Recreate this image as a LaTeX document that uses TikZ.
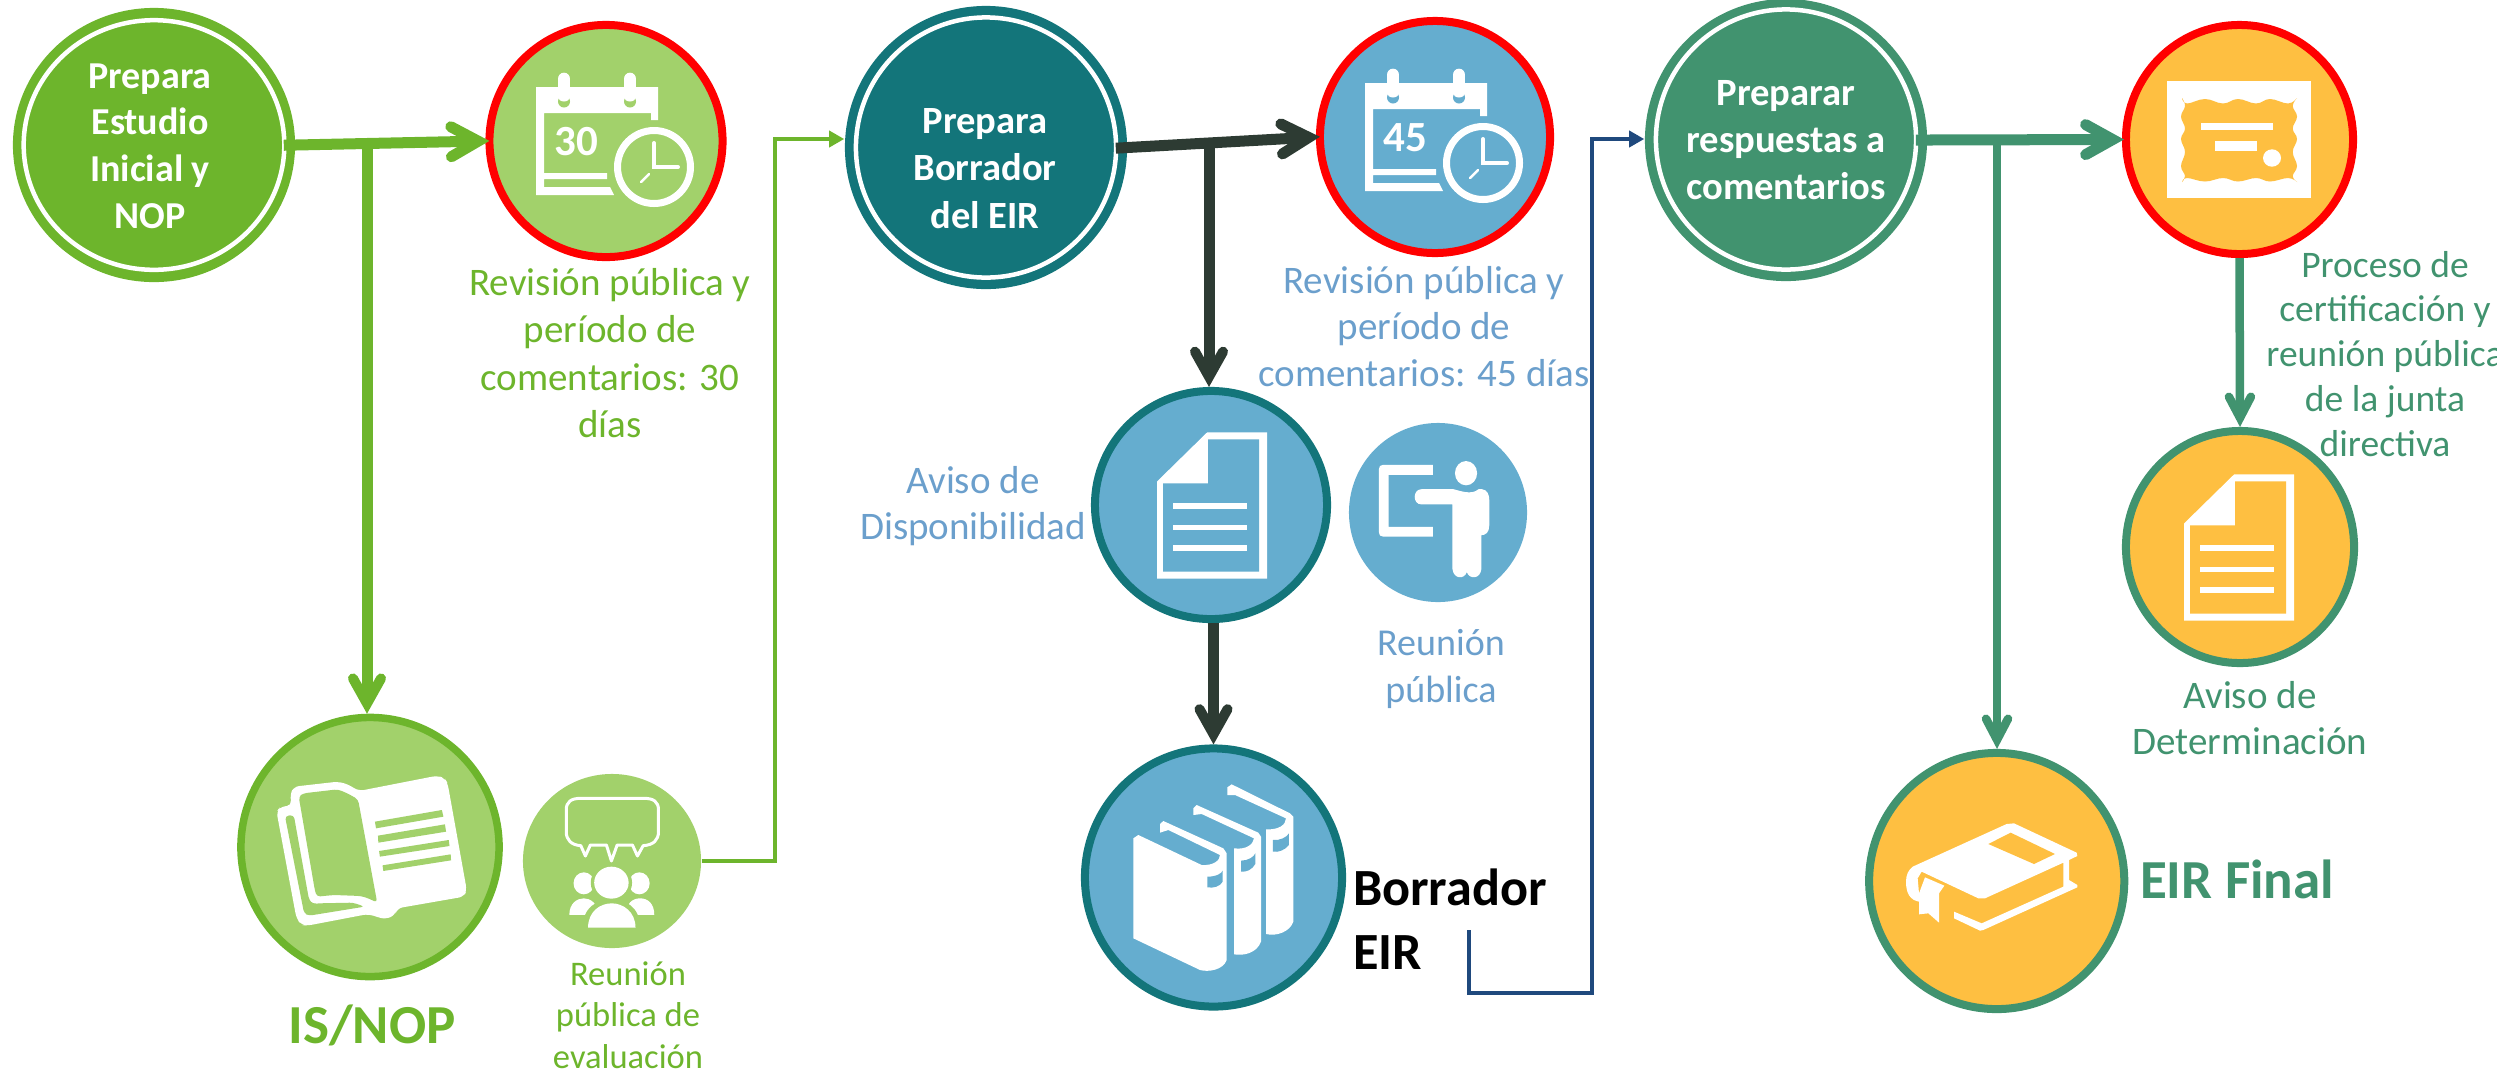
\documentclass[tikz,border=0pt]{standalone}
\usepackage{fontspec}
\setmainfont{Carlito}
\usetikzlibrary{shapes.geometric,arrows.meta}
\definecolor{cgreen}{HTML}{6DB52C}
\definecolor{clight}{HTML}{A2D16B}
\definecolor{cteal}{HTML}{13757A}
\definecolor{cblue}{HTML}{65ADCF}
\definecolor{ctblue}{HTML}{6B9FCC}
\definecolor{csea}{HTML}{41936F}
\definecolor{cnavy}{HTML}{1F497D}
\definecolor{cdark}{HTML}{2D3B33}
\definecolor{camber}{HTML}{FEBF41}
\definecolor{cred}{HTML}{FF0000}
\tikzset{
  disc/.style={ellipse,inner sep=0pt},
  ringline/.style={ellipse,inner sep=0pt,draw=white,line width=0.045cm},
  heavy/.style={line width=0.11cm,-{Straight Barb[length=0.27cm,width=0.30cm,line cap=round,line width=0.11cm]}},
  heavyv/.style={line width=0.11cm,-{Straight Barb[length=0.25cm,width=0.28cm,line cap=round,line width=0.10cm]}},
  medium/.style={line width=0.085cm,-{Straight Barb[length=0.21cm,width=0.22cm,line cap=round,line width=0.085cm]}},
  thin/.style={line width=0.035cm,-{Triangle[length=0.15cm,width=0.16cm]}},
  txt/.style={anchor=north,inner sep=0pt,outer sep=0pt,align=center},
}
\newcommand{\lbl}[7]{%
  \pgfmathsetmacro\fs{#4*0.28453}\pgfmathsetmacro\ld{#5*0.28453}%
  \node[txt,font={\fontsize{\fs}{\ld}\selectfont #6}] (#1) at (#2,{#3-#4}) {\rule{0pt}{\fs pt}#7};}
\newcommand{\calicon}[5]{%
  \begin{scope}[shift={(#1,#2)}]
    \fill[white] (-70,-54) -- (52,-54) -- (52,-21) -- (45,-21) -- (45,-28) -- (-62,-28) -- (-62,32) -- (1,32) -- (1,38) -- (-62,38) -- (-62,46) -- (4,46) -- (8,54) -- (-70,54) -- cycle;
    \foreach \xx in {-42,24}{
      \draw[white,line width=0.127cm,line cap=round] (\xx,-62) -- (\xx,-44);
      \fill[#3] (\xx,-39.5) ellipse (6 and 6);
      \fill[white] (\xx,-44) ellipse (6 and 4.5);
    }
    \draw[white,line width=0.07cm,fill=#3] (48,26) circle (36.5);
    \draw[white,line width=0.04cm,line cap=round] (48,2) -- (48,26) -- (72,26);
    \draw[white,line width=0.025cm,line cap=round] (35,41) -- (43,33);
    \lbl{#5}{-30}{14}{43}{43}{\bfseries\color{white}}{#4}
  \end{scope}}
\newcommand{\docicon}[4]{%
  \begin{scope}[shift={(#1,#2)},yscale=#4]
    \fill[white] (-54,-24) -- (-4,-74) -- (56,-74) -- (56,75) -- (-54,75) -- cycle;
    \fill[#3] (-3,-67) -- (48,-67) -- (48,68) -- (-48,68) -- (-48,-22) -- (-3,-22) -- cycle;
    \fill[white] (-38,-2) rectangle (36,4);
    \fill[white] (-38,20) rectangle (36,26);
    \fill[white] (-38,40.5) rectangle (36,46.5);
  \end{scope}}
\begin{document}
\begin{tikzpicture}[x=0.01cm,y=-0.01cm]
\useasboundingbox (0,0) rectangle (2497,1075);
% ---------- discs
\node[disc,fill=cgreen,minimum width=2.82cm,minimum height=2.74cm] (c1) at (154,145) {};
\node[ringline,minimum width=2.605cm,minimum height=2.495cm] (r1) at (154,145) {};
\node[disc,fill=clight,draw=cred,line width=0.08cm,minimum width=2.33cm,minimum height=2.32cm] (c2) at (606,141) {};
\node[disc,fill=clight,draw=cgreen,line width=0.075cm,minimum width=2.58cm,minimum height=2.59cm] (isnop) at (370,847) {};
\node[disc,fill=clight,minimum width=1.78cm,minimum height=1.74cm] (meet) at (612,861) {};
\node[disc,fill=cteal,minimum width=2.82cm,minimum height=2.83cm] (c3) at (986,147.5) {};
\node[ringline,minimum width=2.6cm,minimum height=2.6cm] (r3) at (986,147.5) {};
\node[disc,fill=cblue,draw=cred,line width=0.08cm,minimum width=2.30cm,minimum height=2.32cm] (c4) at (1435,137) {};
\node[disc,fill=cblue,draw=cteal,line width=0.08cm,minimum width=2.32cm,minimum height=2.28cm] (c5) at (1211,505) {};
\node[disc,fill=cblue,draw=cteal,line width=0.08cm,minimum width=2.57cm,minimum height=2.58cm] (c6) at (1213.5,877.5) {};
\node[disc,fill=cblue,minimum width=1.78cm,minimum height=1.79cm] (pres) at (1438,512.5) {};
\node[disc,fill=csea,minimum width=2.82cm,minimum height=2.82cm] (c7) at (1786,140) {};
\node[ringline,minimum width=2.6cm,minimum height=2.6cm] (r7) at (1786,139.5) {};
\node[disc,fill=camber,draw=cred,line width=0.08cm,minimum width=2.27cm,minimum height=2.29cm] (cert) at (2239.5,139.5) {};
\node[disc,fill=camber,draw=csea,line width=0.08cm,minimum width=2.28cm,minimum height=2.32cm] (det) at (2240,547) {};
\node[disc,fill=camber,draw=csea,line width=0.08cm,minimum width=2.55cm,minimum height=2.56cm] (final) at (1996.7,881) {};
% ---------- icons
\calicon{606}{141}{clight}{30}{n30}
\calicon{1435}{137}{cblue}{45}{n45}
\docicon{1211}{505}{cblue}{0.98}
\docicon{2238}{547}{camber}{0.98}
% certificate
\fill[white] (2167,81) rectangle (2311,198);
\fill[camber] (2182,98)
  -- plot[smooth,tension=0.7] coordinates {(2182,98) (2187,103.5) (2205,99) (2223,103.5) (2238,99) (2256,103.5) (2270,99) (2288,103.5) (2297,98)}
  -- plot[smooth,tension=0.7] coordinates {(2297,98) (2292.7,106) (2297,116.6) (2292.7,128.5) (2297,139) (2292.7,152) (2297,166) (2292.7,176) (2297,182)}
  -- plot[smooth,tension=0.7] coordinates {(2297,182) (2288,178) (2270,181.5) (2256,178) (2238,181.5) (2223,178) (2205,181.5) (2187,178) (2182,182)}
  -- plot[smooth,tension=0.7] coordinates {(2182,182) (2185,176) (2181,166) (2185,152) (2181,139) (2185,128.5) (2181,116.6) (2185,106) (2182,98)}
  -- cycle;
\fill[white] (2201,123) rectangle (2273,130);
\fill[white] (2215,141) rectangle (2257,150.5);
\fill[white] (2272,158) ellipse (9 and 8.7);
% open book (IS/NOP)
\begin{scope}[shift={(200,680)},xscale=0.3827,yscale=0.3333]
  \fill[white,rounded corners=1.5pt] (415,333) -- (620,287) -- (640,295) -- (647,310) -- (697,630) -- (690,650) -- (515,685) -- (510,705) -- (485,718) -- (460,710) -- (440,702) -- (280,737) -- (265,735) -- (252,715) -- (200,395) -- (210,380) -- (240,377) -- (235,345) -- (245,320) -- (360,305) -- (385,312) -- cycle;
  \fill[clight,rounded corners=1pt] (258,350) -- (270,340) -- (360,328) -- (385,340) -- (413,358) -- (463,668) -- (440,655) -- (420,648) -- (350,645) -- (305,650) -- (300,630) -- cycle;
  \fill[clight,rounded corners=1pt] (222,408) -- (245,405) -- (285,660) -- (295,672) -- (310,670) -- (400,668) -- (430,680) -- (285,707) -- (272,700) -- cycle;
  \fill[clight] (457,425) -- (632,390) -- (636,410) -- (460,445) -- cycle;
  \fill[clight] (465,467) -- (640,433) -- (643,455) -- (466,488) -- cycle;
  \fill[clight] (468,513) -- (650,480) -- (652,498) -- (470,530) -- cycle;
  \fill[clight] (477,556) -- (655,523) -- (656,541) -- (479,573) -- cycle;
  % speech bubble
  \draw[white,line width=0.03cm,line join=round] (1158,497) .. controls (1185,495) and (1198,480) .. (1198,455) -- (1198,390) .. controls (1198,365) and (1185,355) .. (1160,355) -- (995,355) .. controls (970,355) and (957,365) .. (957,390) -- (957,455) .. controls (957,480) and (970,495) .. (995,497) -- (1007,528) -- (1020,495) -- (1062,495) -- (1075,543) -- (1090,495) -- (1130,495) -- (1143,528) -- cycle;
  % people
  \fill[white] (1003,610) ellipse (27 and 33);
  \fill[white] (1148,610) ellipse (27 and 33);
  \fill[white] (965,705) .. controls (965,670) and (985,655) .. (1003,655) .. controls (1020,655) and (1040,670) .. (1040,705) -- cycle;
  \fill[white] (1113,705) .. controls (1113,670) and (1130,655) .. (1150,655) .. controls (1170,655) and (1187,670) .. (1187,705) -- cycle;
  \fill[clight] (1075,608) ellipse (54 and 58);
  \fill[clight] (1000,743) .. controls (1000,680) and (1040,658) .. (1076,658) .. controls (1110,658) and (1150,680) .. (1150,743) -- cycle;
  \fill[white] (1075,608) ellipse (45 and 48);
  \fill[white] (1014,743) .. controls (1014,695) and (1045,670) .. (1076,670) .. controls (1105,670) and (1138,695) .. (1138,743) -- cycle;
\end{scope}
% books
\begin{scope}[shift={(1100,740)},scale=0.3333]
  \fill[white] (100,295) -- (115,285) -- (305,375) .. controls (340,377) and (360,362) .. (360,345) -- (205,270) -- (180,278) -- (180,252) -- (190,243) -- (370,325) -- (380,340) -- (380,660) .. controls (370,690) and (325,697) .. (300,690) -- (100,595) -- cycle;
  \fill[cblue] (322,410) .. controls (350,410) and (365,400) .. (368,392) -- (368,425) .. controls (360,440) and (340,445) .. (322,442) -- cycle;
  \fill[white] (402,325) .. controls (440,330) and (460,312) .. (462,295) -- (305,222) -- (280,225) -- (280,205) -- (290,195) -- (475,278) -- (483,290) -- (483,605) .. controls (470,640) and (430,648) .. (402,643) -- cycle;
  \fill[cblue] (423,362) .. controls (445,362) and (462,350) .. (466,340) -- (466,372) .. controls (455,390) and (440,396) .. (423,395) -- cycle;
  \fill[white] (498,268) .. controls (535,270) and (558,255) .. (558,235) -- (405,165) -- (382,165) -- (382,142) -- (395,133) -- (570,220) -- (580,230) -- (580,545) .. controls (570,575) and (530,590) .. (498,582) -- cycle;
  \fill[cblue] (519,300) .. controls (540,302) and (560,292) .. (567,280) -- (567,315) .. controls (555,330) and (535,338) .. (519,335) -- cycle;
\end{scope}
% presenter
\begin{scope}[shift={(1050,350)},xscale=0.3571,yscale=0.4337]
  \fill[white] (932,265) -- (1072,265) -- (1072,288) -- (948,288) -- (948,408) -- (1072,408) -- (1072,430) -- (932,430) .. controls (925,430) and (921,427) .. (921,420) -- (921,275) .. controls (921,268) and (925,265) .. (932,265) -- cycle;
  \fill[white] (1165,284) ellipse (31 and 28);
  \fill[white] (1040,321) -- (1130,321) .. controls (1150,325) and (1180,335) .. (1200,321) -- (1210,321) .. controls (1225,322) and (1230,335) .. (1230,345) -- (1230,405) .. controls (1230,420) and (1220,427) .. (1208,427) -- (1208,505) .. controls (1205,528) and (1175,530) .. (1167,512) .. controls (1160,530) and (1130,528) .. (1127,505) -- (1127,356) -- (1040,356) .. controls (1015,356) and (1015,321) .. (1040,321) -- cycle;
\end{scope}
% closed book (EIR Final)
\begin{scope}[shift={(1850,730)},scale=0.3333]
  \fill[white] (188,410) -- (470,282) -- (492,280) -- (680,368) -- (682,378) -- (657,390) -- (657,450) -- (682,465) -- (682,472) -- (400,600) -- (390,602) -- (312,565) -- (312,545) -- (395,580) -- (640,470) -- (640,398) -- (405,505) -- (385,505) -- (215,425) -- (203,445) -- (207,490) -- (225,442) -- (283,467) -- (267,490) -- (267,578) -- (235,550) -- (207,553) -- (207,515) .. controls (180,510) and (168,490) .. (168,455) .. controls (168,435) and (175,420) .. (188,410) -- cycle;
  \fill[camber] (415,342) -- (482,308) -- (615,372) -- (552,402) -- cycle;
\end{scope}
% ---------- connectors
\coordinate (b1) at (367,145);
\coordinate (b2) at (1209,142);
\coordinate (b3) at (1997,139);
\coordinate (g1) at (775,139);
\coordinate (n0) at (1469,930);
\coordinate (n1) at (1592,993);
\coordinate (n2) at (1592,139);
\draw[heavy,cgreen,shorten <=-0.12cm,shorten >=-0.04cm] (c1.east) -- (c2.west);
\draw[heavyv,cgreen] (b1) -- (b1 |- isnop.north);
\draw[thin,cgreen] (meet.east) -| (g1) -- (g1 -| c3.west);
\draw[heavy,cdark,shorten <=-0.12cm,shorten >=-0.04cm] (c3.east) -- (c4.west);
\draw[heavyv,cdark] (b2) -- (b2 |- c5.north);
\draw[heavyv,cdark] (c6.north |- c5.south) -- (c6.north);
\draw[thin,cnavy] (n0) |- (n1) -- (n2) -- (n2 -| c7.west);
\draw[heavy,csea,shorten <=-0.12cm,shorten >=-0.02cm] (c7.east) -- (cert.west);
\draw[medium,csea] (b3) -- (b3 |- final.north);
\draw[medium,csea] (cert.south) -- (det.north);
% ---------- text
\lbl{t1}{150}{88}{38}{46.7}{\bfseries\color{white}}{Prepara\\Estudio\\Inicial y\\NOP}
\lbl{t2}{610}{295}{39}{47.5}{\color{cgreen}}{Revisión pública y\\período de\\comentarios: 30\\días}
\lbl{t3}{372}{1043}{55}{60}{\bfseries\color{cgreen}}{IS/NOP}
\lbl{t4}{628}{985}{34.5}{41.5}{\color{cgreen}}{Reunión\\pública de\\evaluación}
\lbl{t5}{985}{133}{38.5}{47.5}{\bfseries\color{white}}{Prepara\\Borrador\\del EIR}
\lbl{t6}{1424}{293}{39}{46.5}{\color{ctblue}}{Revisión pública y\\período de\\comentarios: 45 días}
\lbl{t7}{973}{493}{39}{46}{\color{ctblue}}{Aviso de\\Disponibilidad}
\lbl{t8}{1441}{655}{38}{47}{\color{ctblue}}{Reunión\\pública}
\node[anchor=north west,inner sep=0pt,outer sep=0pt,align=left,font={\fontsize{14.85}{18.2}\selectfont\bfseries}] (t9) at (1353,853) {\rule{0pt}{14.8pt}Borrador\\EIR};
\lbl{t10}{1786}{105}{38.6}{47}{\bfseries\color{white}}{Preparar\\respuestas a\\comentarios}
\lbl{t11}{2385}{277}{37.5}{44.9}{\color{csea}}{Proceso de\\certificación y\\reunión pública\\de la junta\\directiva}
\lbl{t12}{2250}{708}{39}{46}{\color{csea}}{Aviso de\\Determinación}
\lbl{t13}{2237}{898}{55}{60}{\bfseries\color{csea}}{EIR Final}
\end{tikzpicture}
\end{document}
